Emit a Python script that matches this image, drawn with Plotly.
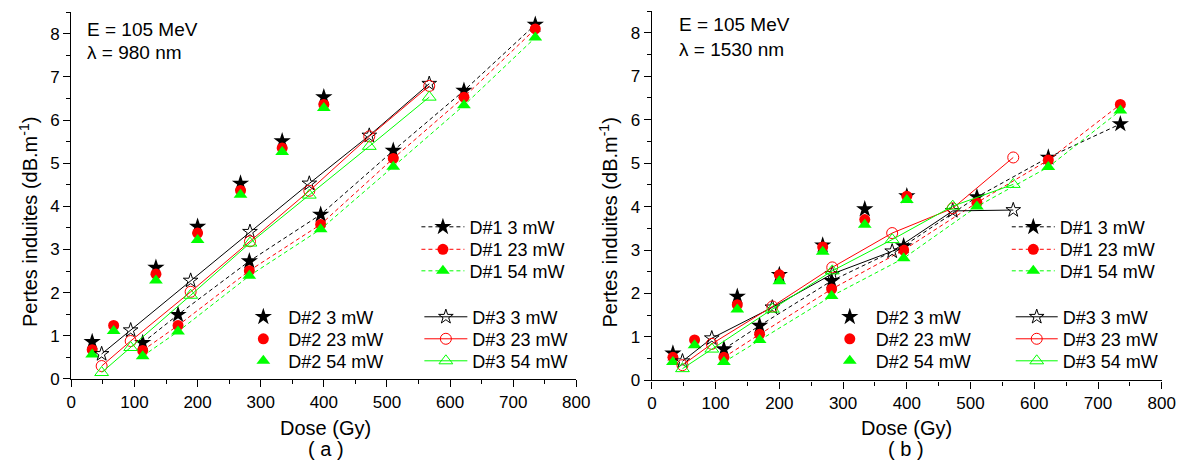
import plotly.graph_objects as go

# ---------------- data ----------------
dose_d1 = [113, 169, 282, 395, 510, 622, 735]
dose_d2 = [33, 67, 134, 200, 268, 334, 400]
dose_d3 = [48, 94, 189, 283, 377, 472, 567]

# panel (a) : lambda = 980 nm
a_d1_3 = [0.84, 1.49, 2.73, 3.81, 5.29, 6.68, 8.21]
a_d1_23 = [0.66, 1.24, 2.51, 3.58, 5.11, 6.53, 8.11]
a_d1_54 = [0.53, 1.10, 2.39, 3.47, 4.92, 6.34, 7.91]
a_d2_3 = [0.86, None, 2.58, 3.53, 4.53, 5.51, 6.53]
a_d2_23 = [0.68, 1.24, 2.43, 3.38, 4.37, 5.35, 6.36]
a_d2_54 = [0.57, 1.11, 2.28, 3.22, 4.27, 5.26, 6.28]
a_d3_3 = [0.58, 1.13, 2.28, 3.41, 4.53, 5.64, 6.84]
a_d3_23 = [0.30, 0.88, 2.02, 3.19, 4.36, 5.62, 6.79]
a_d3_54 = [0.15, 0.73, 1.94, 3.15, 4.26, 5.39, 6.53]

# panel (b) : lambda = 1530 nm
b_d1_3 = [0.72, 1.26, 2.29, 3.09, 4.22, 5.13, 5.90]
b_d1_23 = [0.53, 1.06, 2.10, 3.00, 4.09, 5.07, 6.35]
b_d1_54 = [0.42, 0.93, 1.94, 2.81, 4.00, 4.91, 6.21]
b_d2_3 = [0.62, None, 1.93, 2.43, 3.11, 3.94, 4.24]
b_d2_23 = [0.53, 0.93, 1.74, 2.43, 3.07, 3.70, 4.24]
b_d2_54 = [0.42, 0.81, 1.63, 2.28, 2.96, 3.58, 4.15]
b_d3_3 = [0.44, 0.97, 1.68, 2.45, 2.97, 3.90, 3.92]
b_d3_23 = [0.35, 0.84, 1.70, 2.60, 3.39, 3.96, 5.13]
b_d3_54 = [0.27, 0.72, 1.64, 2.52, 3.24, 4.01, 4.51]

powers = ["3 mW", "23 mW", "54 mW"]
colors = ["#000000", "#FF0000", "#00FF00"]
filled_symbols = ["star", "circle", "triangle-up"]
open_symbols = ["star-open", "circle-open", "triangle-up-open"]
filled_sizes = [13, 11, 12]
open_sizes = [11, 11, 12]

FONT = "Liberation Sans, Arial, sans-serif"
# The page body has an 8 px margin: the figure is sized so the page is 1200x473.
OFF = 8
W, H = 1200 - 2 * OFF, 473 - 2 * OFF


# page pixel -> paper fraction
def px_x(v):
    return (v - OFF) / W


def px_y(v):
    return 1 - (v - OFF) / H


fig = go.Figure()

# legend placement (page pixels): left edge, item width, row centres
rows_d1 = [232, 255, 277]
rows_d23 = [324, 346.5, 369]
panels = [
    dict(x="x", y="y", d1=[a_d1_3, a_d1_23, a_d1_54], d2=[a_d2_3, a_d2_23, a_d2_54],
         d3=[a_d3_3, a_d3_23, a_d3_54],
         leg=dict(d1=(418, 43), d2=(237, 40), d3=(421, 43))),
    dict(x="x2", y="y2", d1=[b_d1_3, b_d1_23, b_d1_54], d2=[b_d2_3, b_d2_23, b_d2_54],
         d3=[b_d3_3, b_d3_23, b_d3_54],
         leg=dict(d1=(1018, 43), d2=(832, 42), d3=(1022, 42))),
]

legends = {}
counter = [0]


def new_legend(xleft, itemw, ycenter):
    counter[0] += 1
    name = "legend" if counter[0] == 1 else "legend%d" % counter[0]
    legends[name] = dict(
        x=px_x(xleft), y=px_y(ycenter), xanchor="left", yanchor="middle", visible=True,
        bgcolor="rgba(0,0,0,0)", borderwidth=0, itemwidth=itemw,
        font=dict(family=FONT, size=18, color="black"))
    return name


for p in panels:
    for i in range(3):
        fig.add_trace(go.Scatter(
            x=dose_d1, y=p["d1"][i], xaxis=p["x"], yaxis=p["y"], mode="lines+markers",
            name="D#1 " + powers[i], showlegend=True,
            legend=new_legend(p["leg"]["d1"][0], p["leg"]["d1"][1], rows_d1[i]),
            line=dict(color=colors[i], width=1, dash="4px,3px"),
            marker=dict(symbol=filled_symbols[i], size=filled_sizes[i], color=colors[i])))
    for i in range(3):
        fig.add_trace(go.Scatter(
            x=dose_d2, y=p["d2"][i], xaxis=p["x"], yaxis=p["y"], mode="markers",
            name="D#2 " + powers[i], showlegend=True,
            legend=new_legend(p["leg"]["d2"][0], p["leg"]["d2"][1], rows_d23[i]),
            marker=dict(symbol=filled_symbols[i], size=filled_sizes[i], color=colors[i])))
    for i in range(3):
        fig.add_trace(go.Scatter(
            x=dose_d3, y=p["d3"][i], xaxis=p["x"], yaxis=p["y"], mode="lines+markers",
            name="D#3 " + powers[i], showlegend=True,
            legend=new_legend(p["leg"]["d3"][0], p["leg"]["d3"][1], rows_d23[i]),
            line=dict(color=colors[i], width=1),
            marker=dict(symbol=open_symbols[i], size=open_sizes[i], color=colors[i],
                        line=dict(width=1, color=colors[i]))))

axis_common = dict(
    showline=True, linecolor="black", linewidth=1.3, showgrid=False, zeroline=False,
    ticks="outside", ticklen=7, tickwidth=1.3, tickcolor="black",
    tickfont=dict(family=FONT, size=17, color="black"), mirror=False,
)

fig.update_layout(
    width=W, height=H, margin=dict(l=0, r=0, t=0, b=0), showlegend=True,
    paper_bgcolor="white", plot_bgcolor="white",
    font=dict(family=FONT, color="black"),
    xaxis=dict(domain=[px_x(67.3), px_x(580.5)], range=[0, 800], dtick=100, anchor="y",
               minor=dict(dtick=50, ticks="outside", ticklen=4, tickcolor="black"), **axis_common),
    yaxis=dict(domain=[px_y(387.3), px_y(12.2)], range=[0, 8.5], dtick=1, anchor="x",
               minor=dict(dtick=0.5, ticks="outside", ticklen=4, tickcolor="black"), **axis_common),
    xaxis2=dict(domain=[px_x(657.3), px_x(1175.5)], range=[0, 800], dtick=100, anchor="y2",
                minor=dict(dtick=50, ticks="outside", ticklen=4, tickcolor="black"), **axis_common),
    yaxis2=dict(domain=[px_y(388.7), px_y(11.1)], range=[0, 8.5], dtick=1, anchor="x2",
                minor=dict(dtick=0.5, ticks="outside", ticklen=4, tickcolor="black"), **axis_common),
    **legends,
)

ann_font = dict(family=FONT, size=19, color="black")
title_font = dict(family=FONT, size=20, color="black")
annotations = [
    dict(text="E = 105 MeV", x=px_x(81), y=px_y(30), xanchor="left", yanchor="middle"),
    dict(text="λ = 980 nm", x=px_x(81), y=px_y(53), xanchor="left", yanchor="middle"),
    dict(text="E = 105 MeV", x=px_x(683), y=px_y(25), xanchor="left", yanchor="middle"),
    dict(text="λ = 1530 nm", x=px_x(683), y=px_y(50), xanchor="left", yanchor="middle"),
]
for a in annotations:
    a.update(xref="paper", yref="paper", showarrow=False, font=ann_font)
titles = [
    dict(text="Dose (Gy)", x=px_x(326), y=px_y(437)),
    dict(text="( a )", x=px_x(326), y=px_y(459)),
    dict(text="Dose (Gy)", x=px_x(916), y=px_y(437)),
    dict(text="( b )", x=px_x(916), y=px_y(459)),
    dict(text="Pertes induites (dB.m<sup>-1</sup>)", x=px_x(23), y=px_y(227), textangle=-90),
    dict(text="Pertes induites (dB.m<sup>-1</sup>)", x=px_x(613), y=px_y(227), textangle=-90),
]
for t in titles:
    t.update(xref="paper", yref="paper", showarrow=False, font=title_font,
             xanchor="center", yanchor="middle")
fig.update_layout(annotations=annotations + titles)

fig.write_html("out.html", config={"displayModeBar": False})
